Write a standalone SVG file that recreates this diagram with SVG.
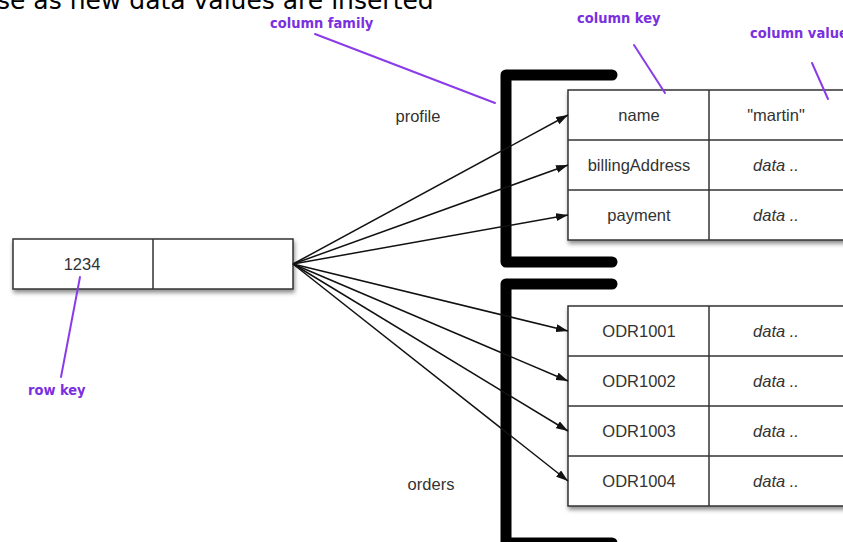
<svg xmlns="http://www.w3.org/2000/svg" width="843" height="542" viewBox="0 0 843 542">
  <style>
    .cell { fill: #ffffff; stroke: #333333; stroke-width: 1.5; }
    .grid { stroke: #333333; stroke-width: 1.5; fill: none; }
    .label { font-family: "Liberation Sans", Arial, sans-serif; font-size: 16.5px; fill: #333333; text-anchor: middle; }
    .val { font-style: italic; }
    .bracket { fill: none; stroke: #000000; stroke-width: 11; stroke-linecap: round; stroke-linejoin: round; }
    .edge { stroke: #111111; stroke-width: 1.5; fill: none; marker-end: url(#arrow); }
    .note { font-family: "DejaVu Sans Condensed", "DejaVu Sans", sans-serif; font-weight: bold; font-size: 14.5px; fill: #7a2fe0; }
    .pointer { stroke: #8a3ce8; stroke-width: 2; fill: none; stroke-linecap: round; }
    .caption { font-family: "DejaVu Sans", sans-serif; font-size: 25px; fill: #000000; }
  </style>
  <defs>
    <marker id="arrow" viewBox="0 0 12 8" refX="12" refY="4" markerWidth="12" markerHeight="8" markerUnits="userSpaceOnUse" orient="auto">
      <path d="M0,0 L12,4 L0,8 Z" fill="#111111"/>
    </marker>
    <filter id="shadow" x="-10%" y="-20%" width="130%" height="150%">
      <feDropShadow dx="1" dy="3" stdDeviation="2" flood-color="#000000" flood-opacity="0.45"/>
    </filter>
  </defs>

  <!-- caption line, running off the top edge -->
  <text class="caption" x="-3" y="9">se as new data values are inserted</text>

  <!-- row key box -->
  <g id="row-1234">
    <rect class="cell" x="13" y="239" width="280" height="50" filter="url(#shadow)"/>
    <line class="grid" x1="153" y1="239" x2="153" y2="289"/>
    <text class="label" x="82" y="270">1234</text>
  </g>

  <!-- column family brackets -->
  <g id="family-profile">
    <path class="bracket" d="M612,75 H506 V262 H612"/>
    <text class="label" x="418" y="122">profile</text>
  </g>
  <g id="family-orders">
    <path class="bracket" d="M612,284 H506 V543 H612"/>
    <text class="label" x="431" y="490">orders</text>
  </g>

  <!-- profile columns -->
  <g id="profile-table">
    <rect class="cell" x="568" y="90" width="290" height="150" filter="url(#shadow)"/>
    <line class="grid" x1="709" y1="90" x2="709" y2="240"/>
    <line class="grid" x1="568" y1="140" x2="858" y2="140"/>
    <line class="grid" x1="568" y1="190" x2="858" y2="190"/>
    <text class="label" x="639" y="121">name</text>
    <text class="label" x="776" y="121">"martin"</text>
    <text class="label" x="639" y="171">billingAddress</text>
    <text class="label val" x="776" y="171">data ..</text>
    <text class="label" x="639" y="221">payment</text>
    <text class="label val" x="776" y="221">data ..</text>
  </g>

  <!-- order columns -->
  <g id="orders-table">
    <rect class="cell" x="568" y="306" width="290" height="200" filter="url(#shadow)"/>
    <line class="grid" x1="709" y1="306" x2="709" y2="506"/>
    <line class="grid" x1="568" y1="356" x2="858" y2="356"/>
    <line class="grid" x1="568" y1="406" x2="858" y2="406"/>
    <line class="grid" x1="568" y1="456" x2="858" y2="456"/>
    <text class="label" x="639" y="337">ODR1001</text>
    <text class="label val" x="776" y="337">data ..</text>
    <text class="label" x="639" y="387">ODR1002</text>
    <text class="label val" x="776" y="387">data ..</text>
    <text class="label" x="639" y="437">ODR1003</text>
    <text class="label val" x="776" y="437">data ..</text>
    <text class="label" x="639" y="487">ODR1004</text>
    <text class="label val" x="776" y="487">data ..</text>
  </g>

  <!-- connectors from the row key to each column -->
  <g id="connectors">
    <line class="edge" x1="293" y1="264" x2="568" y2="115"/>
    <line class="edge" x1="293" y1="264" x2="568" y2="165"/>
    <line class="edge" x1="293" y1="264" x2="568" y2="215"/>
    <line class="edge" x1="293" y1="264" x2="568" y2="331"/>
    <line class="edge" x1="293" y1="264" x2="568" y2="381"/>
    <line class="edge" x1="293" y1="264" x2="568" y2="431"/>
    <line class="edge" x1="293" y1="264" x2="568" y2="481"/>
  </g>

  <!-- annotations -->
  <g id="note-column-family">
    <text class="note" x="270" y="28">column family</text>
    <line class="pointer" x1="315" y1="34" x2="495" y2="103"/>
  </g>
  <g id="note-column-key">
    <text class="note" x="577" y="23">column key</text>
    <line class="pointer" x1="634" y1="45" x2="665" y2="93"/>
  </g>
  <g id="note-column-value">
    <text class="note" x="750" y="38">column value</text>
    <line class="pointer" x1="812" y1="63" x2="828" y2="99"/>
  </g>
  <g id="note-row-key">
    <text class="note" x="28" y="395">row key</text>
    <line class="pointer" x1="80" y1="277" x2="61" y2="377"/>
  </g>
</svg>
